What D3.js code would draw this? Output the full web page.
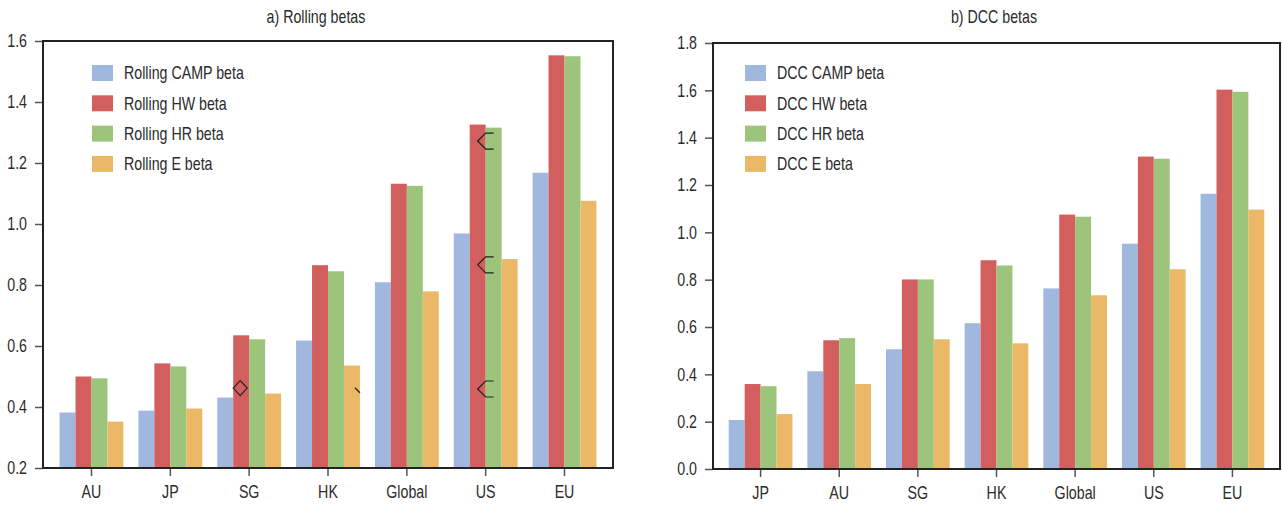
<!DOCTYPE html>
<html>
<head>
<meta charset="utf-8">
<script src="https://cdn.jsdelivr.net/npm/d3@7"></script>
<style>
	body { margin: 0; background: #fff; }
	text { font-family: "Liberation Sans", Arial, sans-serif; fill: #2b2b2b; }
</style>
</head>
<body>
<svg id="chart" width="1282" height="505"></svg>
<script>
var rollingCats = ["AU", "JP", "SG", "HK", "Global", "US", "EU"];
var dccCats = ["JP", "AU", "SG", "HK", "Global", "US", "EU"];

var rollingNames = ["Rolling CAMP beta", "Rolling HW beta", "Rolling HR beta", "Rolling E beta"];
var dccNames = ["DCC CAMP beta", "DCC HW beta", "DCC HR beta", "DCC E beta"];

// values
var rollingCamp = [0.382, 0.388, 0.431, 0.618, 0.809, 0.969, 1.168];
var rollingHW   = [0.500, 0.543, 0.635, 0.865, 1.132, 1.326, 1.553];
var rollingHR   = [0.494, 0.533, 0.622, 0.845, 1.125, 1.316, 1.550];
var rollingE    = [0.352, 0.395, 0.444, 0.536, 0.779, 0.885, 1.076];

var dccCamp = [0.207, 0.413, 0.506, 0.616, 0.763, 0.952, 1.163];
var dccHW   = [0.359, 0.544, 0.801, 0.882, 1.075, 1.320, 1.603];
var dccHR   = [0.350, 0.553, 0.801, 0.860, 1.066, 1.311, 1.594];
var dccE    = [0.232, 0.359, 0.548, 0.531, 0.734, 0.844, 1.096];

var rollingTicks = [0.2, 0.4, 0.6, 0.8, 1.0, 1.2, 1.4, 1.6];
var dccTicks = [0.0, 0.2, 0.4, 0.6, 0.8, 1.0, 1.2, 1.4, 1.6, 1.8];

// stray marker glyphs left on the rolling panel
var rollingMarks = [
	{cat: "SG", series: 1, value: 0.462, shape: "diamond"},
	{cat: "HK", series: 3, value: 0.455, shape: "slash"},
	{cat: "US", series: 1, value: 1.272, shape: "bracket"},
	{cat: "US", series: 1, value: 0.866, shape: "bracket"},
	{cat: "US", series: 1, value: 0.459, shape: "bracket"}
];

var seriesColors = ["#a0b8de", "#d35e5e", "#9cc57b", "#eab866"];

var svg = d3.select("#chart");

// no condensed font here, so squeeze a regular one sideways
var narrow = 0.79;
var squeeze = function(sel){
	sel.each(function(){
		var t = d3.select(this),
			x0 = +t.attr("x") || 0;
		t.attr("x", x0 / narrow)
			.attr("transform", "scale(" + narrow + ",1)");
	});
};

var drawPanel = function(opt){
	var g = svg.append("g");

	var x = d3.scaleBand()
		.domain(opt.cats)
		.range([opt.left, opt.right])
		.paddingInner(0.19)
		.paddingOuter(opt.outer);
	var xs = d3.scaleBand()
		.domain(d3.range(opt.series.length))
		.range([0, x.bandwidth()]);
	var y = d3.scaleLinear()
		.domain([opt.ticks[0], opt.ticks[opt.ticks.length - 1]])
		.range([opt.bottom, opt.top]);

	opt.series.forEach(function(values, i){
		g.selectAll("rect.s" + i)
			.data(values)
			.enter().append("rect")
			.attr("class", "s" + i)
			.attr("x", function(d, j){ return x(opt.cats[j]) + xs(i); })
			.attr("width", xs.bandwidth())
			.attr("y", function(d){ return y(d); })
			.attr("height", function(d){ return y.range()[0] - y(d); })
			.style("fill", seriesColors[i]);
	});

	// odd markers
	(opt.marks || []).forEach(function(m){
		var bx = x(m.cat) + xs(m.series),
			bw = xs.bandwidth(),
			cy = y(m.value),
			p;
		if (m.shape === "diamond") {
			var cx = bx + bw / 2 - 1;
			p = "M" + (cx - 7) + "," + cy + "L" + cx + "," + (cy - 7.5) + "L" + (cx + 7) + "," + cy +
				"L" + cx + "," + (cy + 7.5) + "Z";
		} else if (m.shape === "bracket") {
			var tip = bx + bw / 2, arm = bx + bw, end = bx + bw * 1.5;
			p = "M" + end + "," + (cy - 8) + "L" + arm + "," + (cy - 8) + "L" + tip + "," + cy +
				"L" + arm + "," + (cy + 8) + "L" + end + "," + (cy + 8);
		} else {
			p = "M" + (bx + bw - 5) + "," + (cy - 2.5) + "L" + (bx + bw) + "," + (cy + 2.5);
		}
		g.append("path")
			.attr("d", p)
			.style("fill", "none")
			.style("stroke", "#222")
			.style("stroke-width", 1.2);
	});

	var yAxis = g.append("g")
		.attr("transform", "translate(" + opt.left + ",0)")
		.call(d3.axisLeft(y).tickValues(opt.ticks).tickFormat(d3.format(".1f")).tickSize(8).tickPadding(8));
	var xAxis = g.append("g")
		.attr("transform", "translate(0," + opt.bottom + ")")
		.call(d3.axisBottom(x).tickSize(8).tickPadding(9));

	[yAxis, xAxis].forEach(function(a){
		a.attr("font-family", null);
		a.select(".domain").remove();
		a.selectAll(".tick line").style("stroke", "#555").style("stroke-width", 1.5);
		a.selectAll(".tick text").style("font-size", "18px").style("fill", "#2b2b2b").call(squeeze);
	});

	g.append("rect")
		.attr("x", opt.left)
		.attr("y", opt.top)
		.attr("width", opt.right - opt.left)
		.attr("height", opt.bottom - opt.top)
		.style("fill", "none")
		.style("stroke", "#222")
		.style("stroke-width", 2);

	g.append("text")
		.attr("x", opt.titleX)
		.attr("y", 23)
		.attr("text-anchor", "middle")
		.style("font-size", "18px")
		.text(opt.title)
		.call(squeeze);

	var legend = g.selectAll("g.legend")
		.data(opt.names)
		.enter().append("g")
		.attr("class", "legend")
		.attr("transform", function(d, i){ return "translate(" + opt.legendX + "," + (73 + i * 30.3) + ")"; });
	legend.append("rect")
		.attr("x", 0)
		.attr("y", -8)
		.attr("width", 21)
		.attr("height", 16)
		.style("fill", function(d, i){ return seriesColors[i]; });
	legend.append("text")
		.attr("x", 32)
		.attr("dy", "0.35em")
		.style("font-size", "18px")
		.text(function(d){ return d; })
		.call(squeeze);
};

drawPanel({
	cats: rollingCats,
	names: rollingNames,
	series: [rollingCamp, rollingHW, rollingHR, rollingE],
	ticks: rollingTicks,
	marks: rollingMarks,
	left: 43, right: 613, top: 41, bottom: 468, outer: 0.21,
	title: "a) Rolling betas", titleX: 316,
	legendX: 92
});

drawPanel({
	cats: dccCats,
	names: dccNames,
	series: [dccCamp, dccHW, dccHR, dccE],
	ticks: dccTicks,
	left: 713, right: 1280, top: 43, bottom: 469, outer: 0.2,
	title: "b) DCC betas", titleX: 994,
	legendX: 745
});
</script>
</body>
</html>
